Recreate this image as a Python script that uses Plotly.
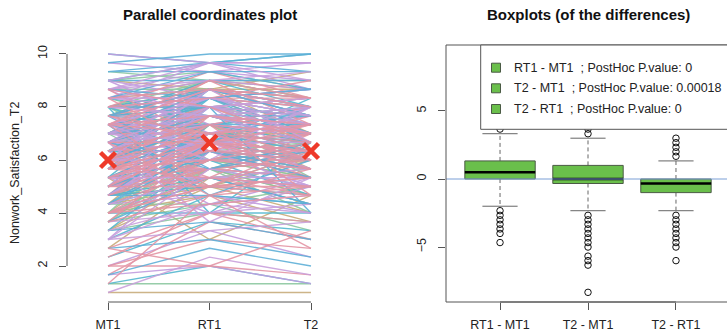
import plotly.graph_objects as go

# ---------------- data ----------------
# Parallel coordinates: each subject's score at MT1, RT1, T2 (scale in thirds of a point)
MT1_THIRDS = [18,15,21,24,12,27,9,16,20,19,22,17,14,23,25,11,18,20,13,26,
              6,17,21,15,24,10,19,22,16,28,18,12,20,23,14,25,8,19,21,17,
              27,13,22,16,24,11,20,18,15,26,4,19,23,14,21,17,10,25,12,29,
              18,20,16,22,13,24,7,19,21,15,26,17,23,11,18,20,14,25,9,22,
              16,27,19,12,21,5,24,17,15,20,23,13,18,26,10,22,16,19,14,30,
              21,8,25,17,20,12,23,18,15,27,11,24,19,13,22,6,16,21,26,18,
              14,20,9,25,17,23,3,19,12,28,15,21,24,10,16,22,18,13,20,27,
              7,19,14,23,17,11,25,20,5,29,18,22,16,12,24,9,26,15,20,4,
              3,4,30,5,6,28,27,8,
              17,19,21,15,23,18,20,16,22,14,24,19,17,21,13,25,18,20,16,22,
              15,23,19,17,21,14,24,18,20,16,22,12,19,17,21,15,23,18,20,14,
              25,19,16,22,13,24,18,20,17,21,15,23,19,16,22,12,18,20,14,25,
              17,21,19,15,23,18,20,16,22,13,24,19,17,21,14,26,18,20,15,23,
              12,24,10,26,14,22,9,25,13,21,16,27,11,23,15,20,8,24,17,19,
              12,22,14,26,10,25,18,16,21,13,23,15,19,11,24,17,20,14,22,18]
RT1_THIRDS = [20,18,22,25,15,27,13,20,20,23,24,17,19,26,25,14,21,22,16,28,
              9,21,20,15,26,12,19,25,17,29,18,13,24,23,16,27,12,22,23,19,
              26,18,22,19,24,16,21,23,17,26,6,20,25,14,25,18,15,26,12,28,
              19,23,16,23,15,27,11,21,21,19,27,20,24,13,22,19,17,28,10,26,
              18,28,18,16,24,8,23,22,16,20,27,14,17,25,13,21,21,24,18,29,
              22,9,24,16,25,17,22,20,20,29,12,25,20,17,24,10,15,26,29,21,
              15,22,14,29,19,26,7,22,14,27,18,19,28,11,20,27,24,13,18,25,
              12,25,20,21,23,17,23,26,11,30,26,15,9,22,12,19,20,24,11,14,
              3,4,29,6,6,28,29,6,
              19,21,23,17,25,20,22,19,24,17,26,20,20,22,16,26,21,21,18,23,
              18,24,23,18,24,16,25,19,23,20,25,15,22,21,21,16,26,22,24,18,
              27,19,17,22,17,24,20,20,22,25,19,23,21,21,26,16,23,24,15,25,
              17,23,24,20,27,18,25,16,20,19,23,22,23,26,20,24,24,17,21,20,
              20,18,19,21,23,14,17,19,22,15,25,22,20,17,24,14,16,21,26,13,
              18,19,21,24,17,22,25,12,27,20,19,22,26,19,20,24,16,22,18,15]
T2_THIRDS  = [19,17,21,24,14,27,12,18,20,20,25,16,17,24,23,15,21,19,13,27,
              8,20,20,16,26,11,18,22,18,30,17,14,23,21,15,26,9,22,20,19,
              28,16,23,15,25,13,22,21,14,25,4,21,25,13,23,20,12,24,12,29,
              18,20,17,22,16,25,10,17,22,18,28,17,23,10,20,18,19,26,11,24,
              16,26,19,15,21,6,22,19,17,21,24,12,19,26,14,20,18,22,14,29,
              24,7,25,15,21,14,23,22,16,28,13,27,19,18,21,7,16,24,27,18,
              18,23,13,26,16,23,5,18,11,27,19,21,25,9,19,25,20,15,20,26,
              11,21,17,22,20,12,24,23,9,30,20,19,14,16,20,15,23,12,16,8,
              3,4,30,4,5,28,29,10,
              18,20,22,16,24,20,21,18,23,16,25,19,19,21,15,25,19,20,17,22,
              18,23,21,17,22,17,26,19,21,18,23,15,20,19,20,16,25,21,22,17,
              25,20,15,21,16,23,17,19,20,24,17,22,22,19,24,14,22,21,14,26,
              18,23,23,19,26,18,23,15,21,17,24,21,21,23,18,25,21,19,18,22,
              18,21,16,23,20,18,15,22,17,19,22,24,19,20,21,17,13,18,23,16,
              21,16,24,20,20,18,20,15,22,24,24,14,21,17,25,18,21,19,24,20]
time_labels = ["MT1", "RT1", "T2"]
time_means = [6.0, 6.65, 6.34]
# colour cycle over subjects (drawn per colour, in this order)
line_colors = ["#C8AC7C", "#8CC8A0", "#55B8D0", "#C29DDE", "#E495A5", "#5FB0D8", "#C9A0DC", "#E495A5"]

# Boxplots of the differences
diff_labels = ["RT1 - MT1", "T2 - MT1", "T2 - RT1"]
q1 = [0.0, -0.33, -1.0]
median = [0.5, 0.0, -0.33]
q3 = [1.33, 1.0, 0.0]
whisk_lo = [-2.0, -2.33, -2.33]
whisk_hi = [3.33, 3.0, 1.33]
outliers = [
    [3.67, -2.33, -2.67, -3.0, -3.33, -3.67, -4.0, -4.67],
    [3.33, 3.67, -2.67, -3.0, -3.33, -3.67, -4.0, -4.33, -4.67, -5.0, -5.67, -6.0, -6.33, -8.33],
    [1.67, 2.0, 2.33, 2.67, 3.0, -2.67, -3.0, -3.33, -3.67, -4.0, -4.33, -4.67, -5.0, -6.0],
]
p_values = ["0", "0.00018", "0"]

# ---------------- figure ----------------
W, H = 727, 336
def px(x): return x / W
def py(y): return (H - y) / H

FONT = "Liberation Sans, Arial, Helvetica, sans-serif"
AX = "#555555"
TXT = "#222222"

fig = go.Figure()

rows = [(m / 3, r / 3, t / 3) for m, r, t in zip(MT1_THIRDS, RT1_THIRDS, T2_THIRDS)]

nc = len(line_colors)
for ci, col in enumerate(line_colors):
    xs, ys = [], []
    for i, (m, r, t) in enumerate(rows):
        if i % nc == ci:
            xs += [1, 2, 3, None]
            ys += [m, r, t, None]
    fig.add_trace(go.Scatter(x=xs, y=ys, mode="lines", xaxis="x", yaxis="y",
                             line=dict(color=col, width=1.4), opacity=0.9,
                             hoverinfo="skip", showlegend=False))

fig.add_trace(go.Scatter(x=[1, 2, 3], y=time_means, mode="markers", xaxis="x", yaxis="y",
                         marker=dict(symbol="x-thin", size=15,
                                     line=dict(color="#EE3A2A", width=4.5)),
                         showlegend=False, hoverinfo="skip"))

# boxes
BOX_FILL = "#6ABF4B"
for i in range(3):
    c = i + 1
    fig.add_trace(go.Scatter(x=[c, c, None, c, c], y=[q3[i], whisk_hi[i], None, q1[i], whisk_lo[i]],
                             mode="lines", xaxis="x2", yaxis="y2",
                             line=dict(color="#666666", width=1, dash="4px,3px"),
                             showlegend=False, hoverinfo="skip"))
    fig.add_trace(go.Scatter(x=[c - 0.2, c + 0.2, None, c - 0.2, c + 0.2],
                             y=[whisk_hi[i], whisk_hi[i], None, whisk_lo[i], whisk_lo[i]],
                             mode="lines", xaxis="x2", yaxis="y2",
                             line=dict(color="#666666", width=1),
                             showlegend=False, hoverinfo="skip"))
    fig.add_trace(go.Scatter(x=[c - 0.4, c + 0.4, c + 0.4, c - 0.4, c - 0.4],
                             y=[q1[i], q1[i], q3[i], q3[i], q1[i]],
                             mode="lines", fill="toself", fillcolor=BOX_FILL,
                             xaxis="x2", yaxis="y2",
                             line=dict(color="#4A5A44", width=1),
                             showlegend=False, hoverinfo="skip"))
    fig.add_trace(go.Scatter(x=[c - 0.4, c + 0.4], y=[median[i], median[i]],
                             mode="lines", xaxis="x2", yaxis="y2",
                             line=dict(color="#000000", width=2.5),
                             showlegend=False, hoverinfo="skip"))
    fig.add_trace(go.Scatter(x=[c] * len(outliers[i]), y=outliers[i],
                             mode="markers", xaxis="x2", yaxis="y2",
                             marker=dict(symbol="circle-open", size=6.5, color="#111111",
                                         line=dict(color="#111111", width=1)),
                             showlegend=False, hoverinfo="skip"))

# zero line
fig.add_trace(go.Scatter(x=[0.386, 3.7], y=[0, 0], mode="lines", xaxis="x2", yaxis="y2",
                         line=dict(color="#7A9FD6", width=1),
                         showlegend=False, hoverinfo="skip"))

axis_common = dict(showgrid=False, zeroline=False, showline=False, ticks="outside",
                   ticklen=7, tickwidth=1, tickcolor=AX,
                   tickfont=dict(family=FONT, size=12.5, color=TXT), fixedrange=True)

fig.update_layout(
    width=W, height=H, margin=dict(l=0, r=0, t=0, b=0),
    paper_bgcolor="white", plot_bgcolor="white", showlegend=False,
    xaxis=dict(domain=[px(67), px(352)], range=[0.596, 3.404],
               tickvals=[1, 2, 3], ticktext=time_labels, anchor="y",
               ticklabelstandoff=4, **axis_common),
    yaxis=dict(domain=[py(302), py(44.5)], range=[0.642, 10.358],
               tickvals=[2, 4, 6, 8, 10], tickangle=-90, anchor="x",
               ticklabelstandoff=7, **axis_common),
    xaxis2=dict(domain=[px(446), 1.0], range=[0.386, 3.58],
                tickvals=[1, 2, 3], ticktext=diff_labels, anchor="y2",
                ticklabelstandoff=4, **axis_common),
    yaxis2=dict(domain=[py(302), py(45)], range=[-9.04, 9.85],
                tickvals=[-5, 0, 5], tickangle=-90, anchor="x2",
                ticklabelstandoff=7, **axis_common),
)

shapes = [
    dict(type="line", xref="x domain", yref="y", x0=0, x1=0, y0=2, y1=10,
         line=dict(color=AX, width=1)),
    dict(type="line", xref="x", yref="y domain", x0=1, x1=3, y0=0, y1=0,
         line=dict(color=AX, width=1)),
    dict(type="rect", xref="x2 domain", yref="y2 domain", x0=0, x1=1.05, y0=0, y1=1,
         line=dict(color=AX, width=1)),
    dict(type="line", xref="x2", yref="y2 domain", x0=1, x1=3, y0=0, y1=0,
         line=dict(color=AX, width=1)),
    dict(type="rect", xref="paper", yref="paper", x0=px(480.7), x1=1.05,
         y0=py(129.3), y1=py(45), fillcolor="white", line=dict(color=AX, width=1)),
]
annotations = [
    dict(text="<b>Parallel coordinates plot</b>", x=px(209.5), y=py(15), xref="paper", yref="paper",
         showarrow=False, xanchor="center", yanchor="middle",
         font=dict(family=FONT, size=15, color="#111111")),
    dict(text="<b>Boxplots (of the differences)</b>", x=px(588), y=py(15), xref="paper", yref="paper",
         showarrow=False, xanchor="center", yanchor="middle",
         font=dict(family=FONT, size=15, color="#111111")),
    dict(text="Nonwork_Satisfaction_T2", x=px(15), y=py(173), xref="paper", yref="paper",
         showarrow=False, textangle=-90, xanchor="center", yanchor="middle",
         font=dict(family=FONT, size=12.5, color=TXT)),
]
rows_y = [67.7, 88.3, 109.0]
for i in range(3):
    yc = rows_y[i]
    shapes.append(dict(type="rect", xref="paper", yref="paper",
                       x0=px(491.5), x1=px(500.5), y0=py(yc + 4.5), y1=py(yc - 4.5),
                       fillcolor=BOX_FILL, line=dict(color="#4A5A44", width=1)))
    annotations.append(dict(text=f"{diff_labels[i]}  ; PostHoc P.value: {p_values[i]}",
                            x=px(512), y=py(yc), xref="paper", yref="paper",
                            showarrow=False, xanchor="left", yanchor="middle",
                            font=dict(family=FONT, size=12.5, color=TXT)))

fig.update_layout(shapes=shapes, annotations=annotations)
fig.write_html("out.html")
